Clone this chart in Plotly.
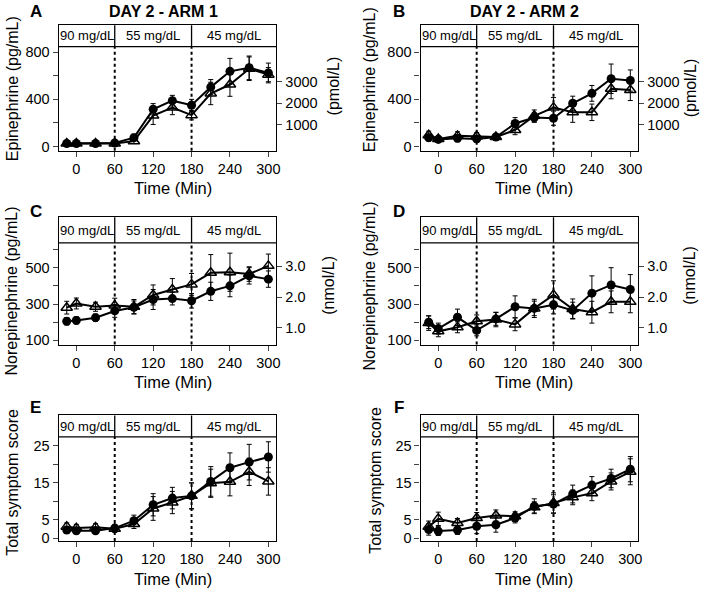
import plotly.graph_objects as go

# ---------------- data ----------------
time = [-15, 0, 30, 60, 90, 120, 150, 180, 210, 240, 270, 300]
x_ticks = [0, 60, 120, 180, 240, 300]
phase_labels = ["90 mg/dL", "55 mg/dL", "45 mg/dL"]
phase_bounds = [60, 180]

# Panel A: Epinephrine, Day 2 - Arm 1 (pg/mL)
epi1_circ = [25, 25, 25, 30, 75, 316, 389, 350, 504, 638, 668, 624]
epi1_circ_err = [15, 15, 15, 20, 30, 48, 45, 50, 64, 110, 100, 84]
epi1_tri = [25, 25, 25, 25, 45, 262, 330, 266, 450, 526, 660, 610]
epi1_tri_err = [15, 15, 15, 15, 20, 75, 60, 40, 95, 100, 100, 60]

# Panel B: Epinephrine, Day 2 - Arm 2
epi2_circ = [75, 60, 70, 64, 80, 195, 245, 240, 367, 451, 575, 560]
epi2_circ_err = [30, 25, 30, 30, 25, 50, 40, 60, 60, 67, 125, 90]
epi2_tri = [95, 64, 90, 87, 80, 140, 260, 330, 290, 290, 490, 480]
epi2_tri_err = [35, 25, 35, 30, 25, 40, 50, 85, 85, 70, 85, 90]

# Panel C: Norepinephrine, Arm 1
ne1_circ = [205, 210, 225, 262, 282, 325, 330, 318, 370, 400, 455, 437]
ne1_circ_err = [20, 20, 20, 35, 35, 55, 35, 40, 50, 60, 45, 45]
ne1_tri = [280, 303, 285, 292, 285, 350, 380, 408, 472, 475, 465, 510]
ne1_tri_err = [35, 30, 25, 40, 40, 55, 60, 60, 100, 105, 40, 65]

# Panel D: Norepinephrine, Arm 2
ne2_circ = [200, 165, 227, 155, 218, 285, 276, 296, 265, 360, 405, 380]
ne2_circ_err = [35, 30, 45, 30, 35, 60, 40, 50, 45, 95, 95, 82]
ne2_tri = [195, 150, 172, 205, 215, 188, 276, 350, 273, 255, 312, 312]
ne2_tri_err = [40, 30, 30, 35, 40, 35, 50, 78, 55, 60, 60, 60]

# Panel E: Total symptom score, Arm 1
sym1_circ = [2.2, 2.0, 2.0, 2.7, 4.7, 9.0, 10.8, 11.4, 15.3, 19.0, 20.5, 21.9]
sym1_circ_err = [0.8, 0.8, 0.8, 0.8, 1.5, 3.0, 2.9, 3.5, 4.0, 4.0, 4.8, 4.1]
sym1_tri = [3.1, 2.7, 2.9, 2.5, 3.8, 8.0, 9.6, 11.4, 14.8, 15.2, 17.9, 15.3]
sym1_tri_err = [1.0, 1.0, 1.0, 1.0, 1.2, 3.2, 3.0, 3.5, 3.8, 3.8, 3.7, 3.7]

# Panel F: Total symptom score, Arm 2
sym2_circ = [2.3, 1.9, 2.2, 3.2, 3.6, 5.4, 8.6, 9.2, 11.9, 14.3, 16.1, 18.6]
sym2_circ_err = [1.5, 1.2, 1.2, 2.0, 2.0, 1.3, 2.0, 2.5, 2.4, 2.3, 2.5, 3.4]
sym2_tri = [3.1, 5.2, 4.1, 5.4, 6.1, 5.9, 8.3, 9.5, 11.0, 12.1, 15.3, 17.9]
sym2_tri_err = [1.5, 1.8, 1.2, 1.5, 1.5, 1.2, 1.5, 2.7, 2.0, 2.0, 2.3, 3.5]

epi_ticks = [0, 200, 400, 600, 800]
epi_ticktext = ["0", "", "400", "", "800"]
epi_right_ticks = [1000, 2000, 3000]
ne_ticks = [100, 200, 300, 400, 500, 600]
ne_ticktext = ["100", "", "300", "", "500", ""]
ne_right_ticks = [1.0, 2.0, 3.0]
sym_ticks = [0, 5, 10, 15, 20, 25]
sym_ticktext = ["0", "5", "", "15", "", "25"]

EPI_TO_PMOL = 5.46      # pg/mL -> pmol/L
NE_TO_NMOL = 0.005911   # pg/mL -> nmol/L

# ---------------- layout constants ----------------
W, H = 709, 592
FONT = "Liberation Sans, Arial, Helvetica, sans-serif"
XRANGE = [-27.6, 312.6]
col_px = [(59, 278), (423, 642)]
row_px = [(25.5, 152), (219, 347.5), (419, 545.5)]

panels = [
    dict(letter="A", title="DAY 2 - ARM 1", col=0, row=0, circ=epi1_circ, ce=epi1_circ_err,
         tri=epi1_tri, te=epi1_tri_err, yr=[-36, 1029], hb=848, ticks=epi_ticks, tt=epi_ticktext,
         ytitle="Epinephrine (pg/mL)", rtitle="(pmol/L)", f=EPI_TO_PMOL, rticks=epi_right_ticks,
         rfmt="d", ly=89, lx=12, rx=335, ry=87),
    dict(letter="B", title="DAY 2 - ARM 2", col=1, row=0, circ=epi2_circ, ce=epi2_circ_err,
         tri=epi2_tri, te=epi2_tri_err, yr=[-36, 1029], hb=848, ticks=epi_ticks, tt=epi_ticktext,
         ytitle="Epinephrine (pg/mL)", rtitle="(pmol/L)", f=EPI_TO_PMOL, rticks=epi_right_ticks,
         rfmt="d", ly=80, lx=371, rx=694, ry=89),
    dict(letter="C", title=None, col=0, row=1, circ=ne1_circ, ce=ne1_circ_err,
         tri=ne1_tri, te=ne1_tri_err, yr=[77, 778], hb=636, ticks=ne_ticks, tt=ne_ticktext,
         ytitle="Norepinephrine (pg/mL)", rtitle="(nmol/L)", f=NE_TO_NMOL, rticks=ne_right_ticks,
         rfmt=".1f", ly=293, lx=12, rx=330, ry=288),
    dict(letter="D", title=None, col=1, row=1, circ=ne2_circ, ce=ne2_circ_err,
         tri=ne2_tri, te=ne2_tri_err, yr=[77, 778], hb=636, ticks=ne_ticks, tt=ne_ticktext,
         ytitle="Norepinephrine (pg/mL)", rtitle="(nmol/L)", f=NE_TO_NMOL, rticks=ne_right_ticks,
         rfmt=".1f", ly=288, lx=372, rx=694, ry=278),
    dict(letter="E", title=None, col=0, row=2, circ=sym1_circ, ce=sym1_circ_err,
         tri=sym1_tri, te=sym1_tri_err, yr=[-0.75, 33.1], hb=27.3, ticks=sym_ticks, tt=sym_ticktext,
         ytitle="Total symptom score", rtitle=None, ly=486, lx=13),
    dict(letter="F", title=None, col=1, row=2, circ=sym2_circ, ce=sym2_circ_err,
         tri=sym2_tri, te=sym2_tri_err, yr=[-0.75, 33.1], hb=27.3, ticks=sym_ticks, tt=sym_ticktext,
         ytitle="Total symptom score", rtitle=None, ly=484, lx=378),
]


def aid(prefix, n):
    return prefix if n == 1 else f"{prefix}{n}"


fig = go.Figure()
layout = dict(width=W, height=H, margin=dict(l=0, r=0, t=0, b=0),
              paper_bgcolor="white", plot_bgcolor="white", showlegend=False,
              font=dict(family=FONT, color="black", size=13))
shapes, annotations = [], []

LW = 1.3
TICKFONT = dict(size=14.5)
sec_idx = 7
for i, p in enumerate(panels, start=1):
    xa, ya = aid("x", i), aid("y", i)
    x0, x1 = col_px[p["col"]]
    top, bot = row_px[p["row"]]
    xdom = [x0 / W, x1 / W]
    ydom = [1 - bot / H, 1 - top / H]
    ylo, yhi = p["yr"]
    hfrac = (p["hb"] - ylo) / (yhi - ylo)

    err_c = dict(type="data", array=p["ce"], visible=True, color="black", thickness=1, width=2.5)
    err_t = dict(type="data", array=p["te"], visible=True, color="black", thickness=1, width=2.5)
    fig.add_trace(go.Scatter(x=time, y=p["circ"], mode="lines+markers", xaxis=xa, yaxis=ya,
                             line=dict(color="black", width=2),
                             marker=dict(symbol="circle", size=9, color="black"),
                             error_y=err_c, hoverinfo="skip"))
    fig.add_trace(go.Scatter(x=time, y=p["tri"], mode="lines+markers", xaxis=xa, yaxis=ya,
                             line=dict(color="black", width=2),
                             marker=dict(symbol="triangle-up-open", size=10, color="black",
                                         line=dict(width=1.5, color="black")),
                             error_y=err_t, hoverinfo="skip"))

    layout[aid("xaxis", i)] = dict(domain=xdom, anchor=ya, range=XRANGE, tickvals=x_ticks,
                                   ticks="outside", ticklen=5, tickwidth=1, showline=True,
                                   mirror=True, linecolor="black", linewidth=LW, showgrid=False,
                                   zeroline=False, tickfont=TICKFONT, fixedrange=True)
    layout[aid("yaxis", i)] = dict(domain=ydom, anchor=xa, range=[ylo, yhi], tickvals=p["ticks"],
                                   ticktext=p["tt"], ticks="outside", ticklen=5, tickwidth=1,
                                   showline=True, mirror=True, linecolor="black", linewidth=LW,
                                   showgrid=False, zeroline=False, tickfont=TICKFONT,
                                   fixedrange=True)
    if p.get("rtitle"):
        ysec = f"y{sec_idx}"
        # same series expressed in SI units, drawn invisibly so the right axis is rendered
        fig.add_trace(go.Scatter(x=time, y=[v * p["f"] for v in p["circ"]], xaxis=xa, yaxis=ysec,
                                 mode="lines", line=dict(width=0), opacity=0, hoverinfo="skip"))
        layout[f"yaxis{sec_idx}"] = dict(overlaying=ya, anchor=xa, side="right",
                                         range=[ylo * p["f"], yhi * p["f"]], tickvals=p["rticks"],
                                         tickformat=p["rfmt"], ticks="outside", ticklen=5,
                                         tickwidth=1, showline=False, showgrid=False,
                                         zeroline=False, tickfont=TICKFONT, fixedrange=True)
        sec_idx += 1
        annotations.append(dict(text=p["rtitle"], xref="paper", yref="paper",
                                x=p["rx"] / W, y=1 - p["ry"] / H, textangle=-90, showarrow=False,
                                font=dict(size=16), xanchor="center", yanchor="middle"))

    # header band
    xd, yd = f"{xa} domain", f"{ya} domain"
    shapes.append(dict(type="line", xref=xd, yref=yd, x0=0, x1=1, y0=hfrac, y1=hfrac,
                       line=dict(color="black", width=LW)))
    for b in phase_bounds:
        shapes.append(dict(type="line", xref=xa, yref=yd, x0=b, x1=b, y0=hfrac, y1=1,
                           line=dict(color="black", width=LW)))
        shapes.append(dict(type="line", xref=xa, yref=yd, x0=b, x1=b, y0=0, y1=hfrac,
                           line=dict(color="black", width=2, dash="dot")))
    seg = [XRANGE[0]] + phase_bounds + [XRANGE[1]]
    for k, lab in enumerate(phase_labels):
        annotations.append(dict(text=lab, xref=xa, yref=yd, x=(seg[k] + seg[k + 1]) / 2,
                                y=(1 + hfrac) / 2, showarrow=False, font=dict(size=13),
                                xanchor="center", yanchor="middle"))

    # axis titles
    annotations.append(dict(text=p["ytitle"], xref="paper", yref="paper", x=p["lx"] / W,
                            y=1 - p["ly"] / H, textangle=-90, showarrow=False,
                            font=dict(size=16), xanchor="center", yanchor="middle"))
    xmid = (x0 + x1) / 2 + 5
    annotations.append(dict(text="Time (Min)", xref="paper", yref="paper", x=xmid / W,
                            y=1 - (bot + 38) / H, showarrow=False, font=dict(size=16.5),
                            xanchor="center", yanchor="middle"))
    # panel letter
    lx = 36 if p["col"] == 0 else 401
    ly = [12, 213, 411][p["row"]]
    annotations.append(dict(text=f"<b>{p['letter']}</b>", xref="paper", yref="paper",
                            x=lx / W, y=1 - ly / H, showarrow=False, font=dict(size=17),
                            xanchor="center", yanchor="middle"))
    if p["title"]:
        tx = 164 if p["col"] == 0 else 527
        annotations.append(dict(text=f"<b>{p['title']}</b>", xref="paper", yref="paper",
                                x=tx / W, y=1 - 12 / H, showarrow=False, font=dict(size=16),
                                xanchor="center", yanchor="middle"))

layout["shapes"] = shapes
layout["annotations"] = annotations
fig.update_layout(**layout)
fig.write_html("out.html", config={"displayModeBar": False},
               post_script="document.body.style.margin='0';document.body.style.overflow='hidden';")
